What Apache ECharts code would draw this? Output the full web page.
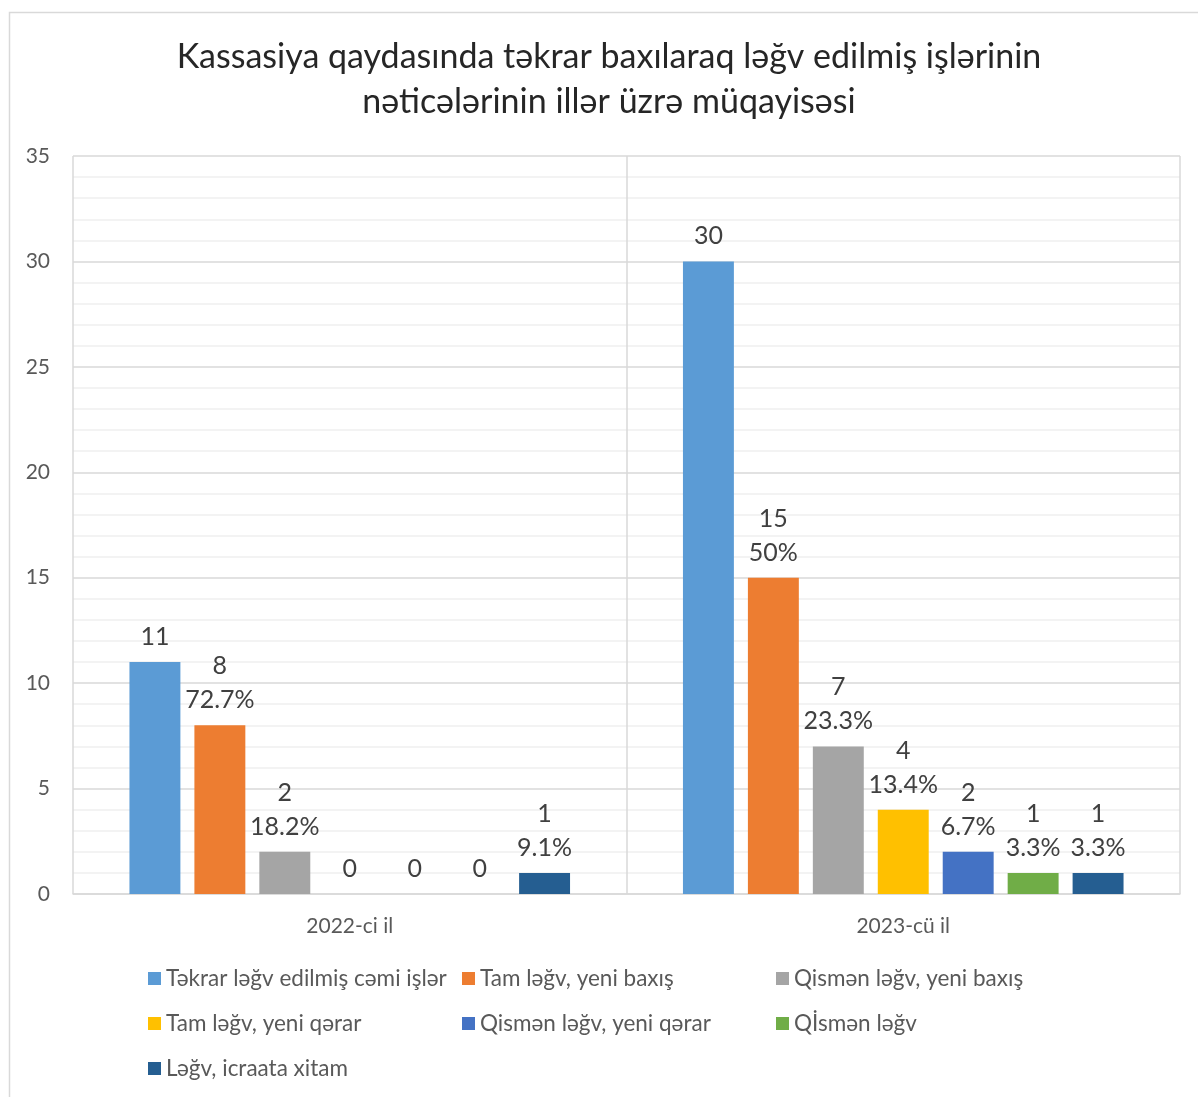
<!DOCTYPE html>
<html>
<head>
<meta charset="utf-8">
<script src="https://cdn.jsdelivr.net/npm/echarts@6/dist/echarts.min.js"></script>
<style>
html,body{margin:0;padding:0;background:#fff;}
#c{width:1198px;height:1097px;}
</style>
</head>
<body>
<div id="c"></div>
<script>
const categories = ['2022-ci il', '2023-cü il'];
const seriesNames = ['Təkrar ləğv edilmiş cəmi işlər', 'Tam ləğv, yeni baxış', 'Qismən ləğv, yeni baxış', 'Tam ləğv, yeni qərar', 'Qismən ləğv, yeni qərar', 'Qİsmən ləğv', 'Ləğv, icraata xitam'];
const s1 = [11, 30];
const s2 = [8, 15];
const s3 = [2, 7];
const s4 = [0, 4];
const s5 = [0, 2];
const s6 = [0, 1];
const s7 = [1, 1];
const p2 = ['72.7%', '50%'];
const p3 = ['18.2%', '23.3%'];
const p4 = ['', '13.4%'];
const p5 = ['', '6.7%'];
const p6 = ['', '3.3%'];
const p7 = ['9.1%', '3.3%'];
const yTicks = [0, 5, 10, 15, 20, 25, 30, 35];
const colors = ['#5B9BD5', '#ED7D31', '#A5A5A5', '#FFC000', '#4472C4', '#70AD47', '#255E91'];

const values = [s1, s2, s3, s4, s5, s6, s7];
const pcts = [null, p2, p3, p4, p5, p6, p7];
const FONT = 'Lato, "Open Sans", sans-serif';

const chart = echarts.init(document.getElementById('c'), null, {renderer: 'canvas'});
const series = values.map((v, i) => ({
  name: seriesNames[i],
  type: 'bar',
  data: v,
  barGap: '27.5%',
  barCategoryGap: '20.4%',
  itemStyle: {color: colors[i]},
  label: {
    show: true,
    position: 'top',
    distance: 8,
    color: '#404040',
    fontSize: 25,
    lineHeight: 34,
    fontFamily: FONT,
    formatter: p => {
      if (!pcts[i] || !p.value) return String(p.value);
      return p.value + '\n' + pcts[i][p.dataIndex];
    }
  }
}));

chart.setOption({
  animation: false,
  color: colors,
  graphic: [{
    type: 'rect', shape: {x: 9.5, y: 12.5, width: 1200, height: 1100},
    style: {fill: 'none', stroke: '#d9d9d9', lineWidth: 1.5}, silent: true, z: -10
  }],
  title: {
    text: 'Kassasiya qaydasında təkrar baxılaraq ləğv edilmiş işlərinin\nnəticələrinin illər üzrə müqayisəsi',
    left: 609,
    top: 35,
    padding: 0,
    textAlign: 'center',
    textStyle: {fontFamily: FONT, fontSize: 34, fontWeight: 'normal', color: '#262626', lineHeight: 45}
  },
  grid: {left: 73, right: 18, top: 156, bottom: 203, containLabel: false},
  xAxis: {
    type: 'category',
    data: categories,
    axisLine: {show: true, lineStyle: {color: '#d9d9d9', width: 1.5}},
    axisTick: {show: false},
    splitLine: {show: true, lineStyle: {color: '#d9d9d9', width: 1.5}},
    axisLabel: {color: '#595959', fontSize: 21, fontFamily: FONT, margin: 22}
  },
  yAxis: {
    type: 'value',
    min: yTicks[0],
    max: yTicks[yTicks.length - 1],
    interval: 5,
    axisLine: {show: false},
    axisTick: {show: false},
    splitLine: {show: true, lineStyle: {color: '#d9d9d9', width: 1.5}},
    minorTick: {show: false, splitNumber: 5},
    minorSplitLine: {show: true, lineStyle: {color: '#f0f0f0', width: 1.5}},
    axisLabel: {color: '#595959', fontSize: 21, fontFamily: FONT, margin: 23}
  },
  legend: {
    data: seriesNames,
    left: 148,
    top: 961,
    width: 960,
    padding: 0,
    itemWidth: 13,
    itemHeight: 13,
    itemGap: 10,
    icon: 'rect',
    textStyle: {color: '#595959', fontSize: 22.5, fontFamily: FONT, width: 286, lineHeight: 35, overflow: 'none'}
  },
  series: series
});
</script>
</body>
</html>
